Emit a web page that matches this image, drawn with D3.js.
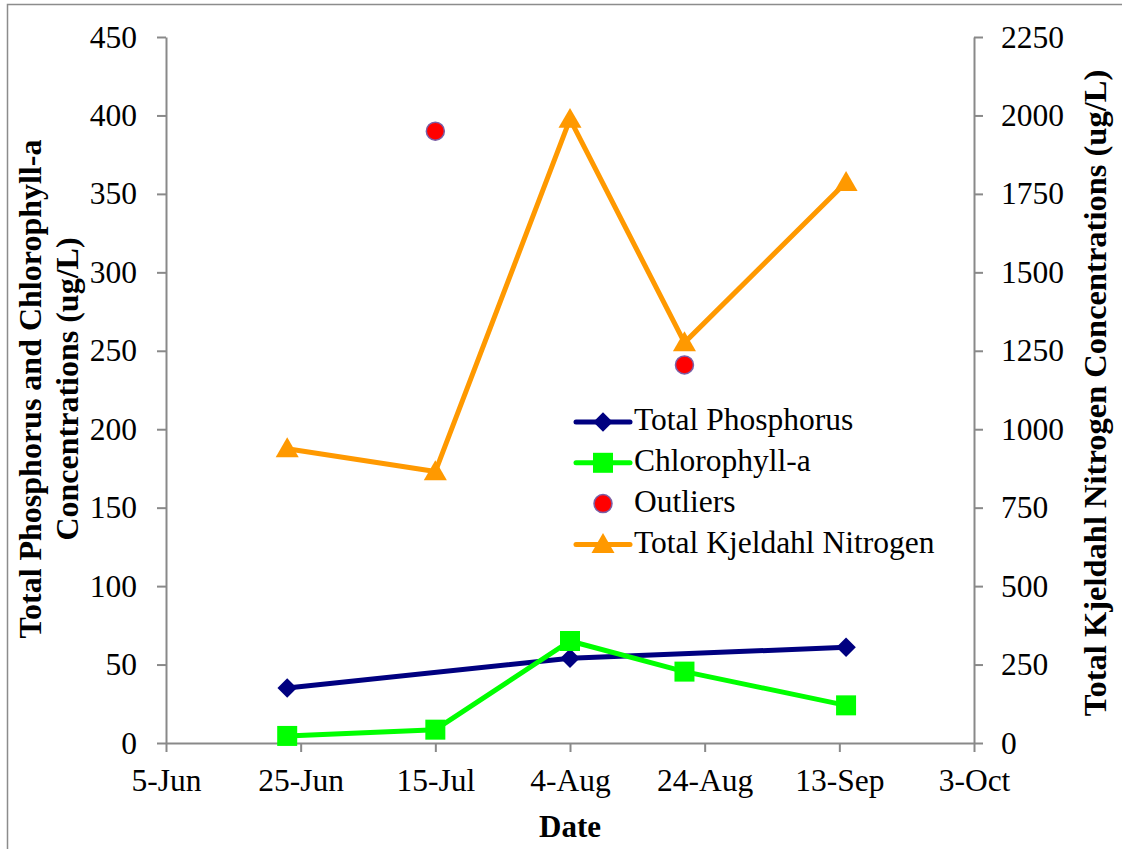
<!DOCTYPE html>
<html>
<head>
<meta charset="utf-8">
<script src="https://cdn.jsdelivr.net/npm/d3@7"></script>
<style>
  html, body { margin: 0; padding: 0; background: #fff; }
</style>
</head>
<body>
<svg id="chart" width="1122" height="849"></svg>
<script>
// Sampling dates and measured concentrations (ug/L)
const sampleDates = ["2013-06-23", "2013-07-15", "2013-08-04", "2013-08-21", "2013-09-14"];
const phosphorus  = [35, null, 54, null, 61];
const chlorophyll = [4.5, 8.5, 65, 45.5, 24];
const outliers    = [null, 390, null, 241, null];
const kjeldahlN   = [938, 865, 1988, 1276, 1787];

// Axis ticks
const dateTicks  = ["2013-06-05", "2013-06-25", "2013-07-15", "2013-08-04", "2013-08-24", "2013-09-13", "2013-10-03"];
const leftTicks  = [0, 50, 100, 150, 200, 250, 300, 350, 400, 450];
const rightTicks = [0, 250, 500, 750, 1000, 1250, 1500, 1750, 2000, 2250];

const seriesNames = ["Total Phosphorus", "Chlorophyll-a", "Outliers", "Total Kjeldahl Nitrogen"];

const FONT = "'Liberation Serif', 'Times New Roman', serif";
const TICK_SIZE = 31.5;
const parse = d3.utcParse("%Y-%m-%d");
const svg = d3.select("#chart");

// Outer chart frame
svg.append("rect")
  .attr("x", 7.5).attr("y", 4.5)
  .attr("width", 1140).attr("height", 860)
  .attr("fill", "none").attr("stroke", "#8c8c8c").attr("stroke-width", 1.5);

const plot = { left: 166, right: 974, top: 37, bottom: 743 };

const x = d3.scaleUtc()
  .domain([parse(dateTicks[0]), parse(dateTicks[dateTicks.length - 1])])
  .range([plot.left, plot.right]);
const yL = d3.scaleLinear().domain([0, 450]).range([plot.bottom, plot.top]);
const yR = d3.scaleLinear().domain([0, 2250]).range([plot.bottom, plot.top]);

const axisColor = "#898989";
const fmt = d3.utcFormat("%-d-%b");

function styleAxis(g) {
  g.attr("font-family", null).attr("font-size", null);
  g.selectAll("path.domain").attr("stroke", axisColor).attr("stroke-width", 2);
  g.selectAll(".tick line").attr("stroke", axisColor).attr("stroke-width", 2);
  g.selectAll(".tick text").style("font-family", FONT)
    .style("font-size", TICK_SIZE + "px").attr("fill", "#000");
}

// Left axis
const gL = svg.append("g").attr("transform", `translate(${plot.left},0)`)
  .call(d3.axisLeft(yL).tickValues(leftTicks).tickFormat(d3.format("d"))
    .tickSize(9).tickSizeOuter(0).tickPadding(20));
styleAxis(gL);

// Right axis
const gR = svg.append("g").attr("transform", `translate(${plot.right},0)`)
  .call(d3.axisRight(yR).tickValues(rightTicks).tickFormat(d3.format("d"))
    .tickSize(9).tickSizeOuter(0).tickPadding(18));
styleAxis(gR);

// Bottom axis
const gX = svg.append("g").attr("transform", `translate(0,${plot.bottom})`)
  .call(d3.axisBottom(x).tickValues(dateTicks.map(parse)).tickFormat(fmt)
    .tickSize(9).tickSizeOuter(0).tickPadding(16.5));
styleAxis(gX);
gX.selectAll(".tick text").attr("dy", "0.71em");

function title(tx, ty, rot, size, label) {
  svg.append("text")
    .attr("transform", `translate(${tx},${ty}) rotate(${rot})`)
    .attr("text-anchor", "middle")
    .style("font-family", FONT).style("font-weight", "bold").style("font-size", size + "px")
    .text(label);
}

// Axis titles
title(41, 389, -90, 32, "Total Phosphorus and Chlorophyll-a");
title(78, 389, -90, 32, "Concentrations (ug/L)");
title(1106, 393, -90, 32.5, "Total Kjeldahl Nitrogen Concentrations (ug/L)");
title((plot.left + plot.right) / 2, 836.5, 0, 31, "Date");

// Build point sets
function pts(values) {
  return sampleDates.map((d, i) => ({ date: parse(d), v: values[i] })).filter(p => p.v !== null);
}
const tpPts  = pts(phosphorus);
const chlPts = pts(chlorophyll);
const outPts = pts(outliers);
const tknPts = pts(kjeldahlN);

const colors = {
  tp: "#000080",
  chl: "#00ff00",
  out: "#ff0000",
  outStroke: "#7a5fa6",
  tkn: "#ff9900"
};

const lineL = d3.line().x(d => x(d.date)).y(d => yL(d.v));
const lineR = d3.line().x(d => x(d.date)).y(d => yR(d.v));

const diamond = d3.symbol().type(d3.symbolSquare).size(190)();
const square = d3.symbol().type(d3.symbolSquare).size(400)();
const triangle = d3.symbol().type(d3.symbolTriangle).size(230)();

// Total Kjeldahl Nitrogen (right axis)
svg.append("path").datum(tknPts).attr("d", lineR)
  .attr("fill", "none").attr("stroke", colors.tkn).attr("stroke-width", 5).attr("stroke-linejoin", "round");
svg.selectAll(".tkn").data(tknPts).join("path")
  .attr("transform", d => `translate(${x(d.date)},${yR(d.v) + 2})`)
  .attr("d", triangle).attr("fill", colors.tkn);

// Total Phosphorus
svg.append("path").datum(tpPts).attr("d", lineL)
  .attr("fill", "none").attr("stroke", colors.tp).attr("stroke-width", 5).attr("stroke-linejoin", "round");
svg.selectAll(".tp").data(tpPts).join("path")
  .attr("transform", d => `translate(${x(d.date)},${yL(d.v)}) rotate(45)`)
  .attr("d", diamond).attr("fill", colors.tp);

// Chlorophyll-a
svg.append("path").datum(chlPts).attr("d", lineL)
  .attr("fill", "none").attr("stroke", colors.chl).attr("stroke-width", 5).attr("stroke-linejoin", "round");
svg.selectAll(".chl").data(chlPts).join("path")
  .attr("transform", d => `translate(${x(d.date)},${yL(d.v)})`)
  .attr("d", square).attr("fill", colors.chl);

// Outliers
svg.selectAll(".out").data(outPts).join("circle")
  .attr("cx", d => x(d.date)).attr("cy", d => yL(d.v)).attr("r", 9)
  .attr("fill", colors.out).attr("stroke", colors.outStroke).attr("stroke-width", 1.5);

// Legend
const legend = svg.append("g").attr("transform", "translate(576,422)");
const rowGap = 40.8;
seriesNames.forEach((name, i) => {
  const g = legend.append("g").attr("transform", `translate(0,${i * rowGap})`);
  if (i === 0) {
    g.append("line").attr("x1", 0).attr("x2", 54).attr("stroke", colors.tp).attr("stroke-width", 5).attr("stroke-linecap", "round");
    g.append("path").attr("d", diamond).attr("transform", "translate(27,0) rotate(45)").attr("fill", colors.tp);
  } else if (i === 1) {
    g.append("line").attr("x1", 0).attr("x2", 54).attr("stroke", colors.chl).attr("stroke-width", 5).attr("stroke-linecap", "round");
    g.append("path").attr("d", square).attr("transform", "translate(27,0)").attr("fill", colors.chl);
  } else if (i === 2) {
    g.append("circle").attr("cx", 27).attr("cy", 0).attr("r", 9)
      .attr("fill", colors.out).attr("stroke", colors.outStroke).attr("stroke-width", 1.5);
  } else {
    g.append("line").attr("x1", 0).attr("x2", 54).attr("stroke", colors.tkn).attr("stroke-width", 5).attr("stroke-linecap", "round");
    g.append("path").attr("d", triangle).attr("transform", "translate(27,2)").attr("fill", colors.tkn);
  }
  g.append("text").attr("x", 58).attr("y", 0).attr("dy", "0.26em")
    .style("font-family", FONT).style("font-size", "31.5px").text(name);
});
</script>
</body>
</html>
